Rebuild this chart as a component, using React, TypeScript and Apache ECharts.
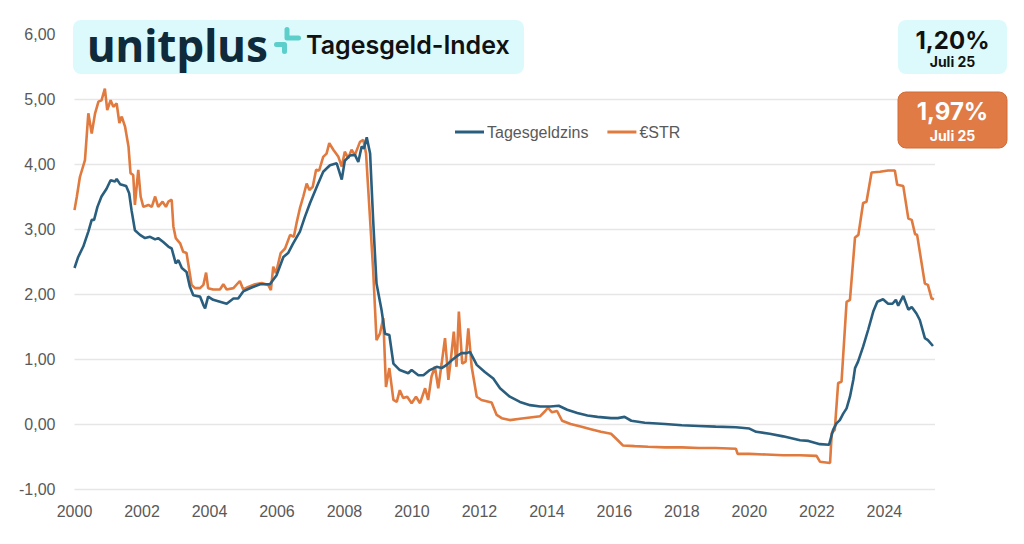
import React, { useEffect, useRef } from "react";
import * as echarts from "echarts";

// Tagesgeldzins (Tagesgeld-Index), [year, percent]
const tagesgeldzins: [number, number][] = [
  [2000.0, 2.40], [2000.11, 2.57], [2000.26, 2.73], [2000.41, 2.96], [2000.51, 3.14], [2000.58, 3.14],
  [2000.68, 3.34], [2000.8, 3.50], [2000.95, 3.62], [2001.07, 3.75], [2001.2, 3.73], [2001.25, 3.77],
  [2001.35, 3.69], [2001.53, 3.66], [2001.62, 3.55], [2001.69, 3.29], [2001.79, 2.98], [2001.94, 2.91],
  [2002.09, 2.86], [2002.24, 2.88], [2002.39, 2.84], [2002.48, 2.86], [2002.63, 2.80], [2002.78, 2.73],
  [2002.88, 2.70], [2003.0, 2.47], [2003.08, 2.52], [2003.18, 2.40], [2003.32, 2.34], [2003.42, 2.11],
  [2003.52, 1.98], [2003.72, 1.96], [2003.82, 1.83], [2003.87, 1.78], [2003.96, 1.96], [2004.11, 1.91],
  [2004.31, 1.88], [2004.51, 1.85], [2004.71, 1.93], [2004.85, 1.93], [2005.0, 2.04], [2005.25, 2.10],
  [2005.5, 2.15], [2005.79, 2.15], [2005.99, 2.29], [2006.19, 2.57], [2006.33, 2.63], [2006.48, 2.78],
  [2006.68, 2.96], [2006.83, 3.19], [2006.98, 3.40], [2007.18, 3.65], [2007.37, 3.88], [2007.57, 3.98],
  [2007.77, 4.01], [2007.92, 3.76], [2008.01, 4.05], [2008.16, 4.13], [2008.31, 4.14], [2008.41, 4.03],
  [2008.51, 4.27], [2008.58, 4.24], [2008.66, 4.41], [2008.76, 4.16], [2008.85, 3.14], [2008.95, 2.16],
  [2009.1, 1.75], [2009.2, 1.39], [2009.33, 1.37], [2009.45, 0.93], [2009.64, 0.83], [2009.89, 0.78],
  [2009.99, 0.83], [2010.19, 0.75], [2010.34, 0.75], [2010.53, 0.83], [2010.73, 0.88], [2010.88, 0.86],
  [2011.03, 0.91], [2011.18, 0.98], [2011.32, 1.04], [2011.47, 1.09], [2011.62, 1.09], [2011.72, 1.11],
  [2011.92, 0.91], [2012.16, 0.80], [2012.41, 0.70], [2012.61, 0.55], [2012.9, 0.42], [2013.2, 0.34],
  [2013.5, 0.29], [2013.8, 0.27], [2014.1, 0.27], [2014.35, 0.28], [2014.6, 0.22], [2014.9, 0.17],
  [2015.2, 0.13], [2015.5, 0.11], [2015.9, 0.09], [2016.1, 0.09], [2016.3, 0.11], [2016.5, 0.05],
  [2016.9, 0.02], [2017.5, 0.0], [2018.0, -0.02], [2018.5, -0.03], [2019.0, -0.04], [2019.6, -0.05],
  [2020.0, -0.07], [2020.2, -0.12], [2020.6, -0.15], [2021.0, -0.19], [2021.5, -0.25], [2021.75, -0.26],
  [2022.09, -0.31], [2022.36, -0.32], [2022.48, -0.09], [2022.58, 0.01], [2022.68, 0.06], [2022.78, 0.16],
  [2022.88, 0.24], [2022.98, 0.42], [2023.08, 0.68], [2023.13, 0.86], [2023.22, 0.96], [2023.37, 1.19],
  [2023.52, 1.45], [2023.67, 1.73], [2023.79, 1.88], [2023.96, 1.92], [2024.11, 1.85], [2024.24, 1.85],
  [2024.34, 1.91], [2024.41, 1.82], [2024.56, 1.97], [2024.71, 1.76], [2024.81, 1.80], [2024.95, 1.70],
  [2025.05, 1.60], [2025.2, 1.32], [2025.29, 1.29], [2025.44, 1.20],
];

// €STR (EONIA before 2019), [year, percent]
const estr: [number, number][] = [
  [2000.0, 3.29], [2000.07, 3.50], [2000.16, 3.80], [2000.31, 4.06], [2000.41, 4.78], [2000.51, 4.47],
  [2000.61, 4.78], [2000.71, 4.96], [2000.8, 4.98], [2000.9, 5.16], [2000.97, 4.83], [2001.07, 4.98],
  [2001.15, 4.88], [2001.25, 4.93], [2001.33, 4.63], [2001.4, 4.73], [2001.5, 4.57], [2001.6, 4.27],
  [2001.66, 3.86], [2001.74, 3.83], [2001.79, 3.37], [2001.89, 3.91], [2001.96, 3.50], [2002.04, 3.34],
  [2002.19, 3.37], [2002.29, 3.34], [2002.39, 3.50], [2002.48, 3.34], [2002.61, 3.42], [2002.71, 3.34],
  [2002.78, 3.42], [2002.88, 3.45], [2002.93, 3.04], [2003.0, 2.86], [2003.13, 2.78], [2003.22, 2.65],
  [2003.32, 2.63], [2003.4, 2.37], [2003.47, 2.14], [2003.57, 2.09], [2003.72, 2.09], [2003.82, 2.14],
  [2003.9, 2.33], [2003.96, 2.09], [2004.11, 2.07], [2004.31, 2.07], [2004.41, 2.15], [2004.51, 2.07],
  [2004.71, 2.09], [2004.9, 2.20], [2005.0, 2.07], [2005.15, 2.11], [2005.35, 2.15], [2005.55, 2.17],
  [2005.74, 2.14], [2005.82, 2.06], [2005.89, 2.42], [2005.97, 2.32], [2006.11, 2.63], [2006.24, 2.70],
  [2006.39, 2.91], [2006.5, 2.88], [2006.58, 3.09], [2006.68, 3.32], [2006.78, 3.50], [2006.88, 3.70],
  [2006.96, 3.60], [2007.06, 3.65], [2007.16, 3.91], [2007.25, 3.90], [2007.37, 4.11], [2007.47, 4.16],
  [2007.55, 4.32], [2007.67, 4.22], [2007.82, 4.11], [2007.92, 3.96], [2008.01, 4.19], [2008.11, 4.09],
  [2008.21, 4.22], [2008.31, 4.14], [2008.46, 4.34], [2008.56, 4.37], [2008.64, 4.16], [2008.76, 3.14],
  [2008.85, 2.37], [2008.95, 1.29], [2009.05, 1.39], [2009.15, 1.63], [2009.23, 0.57], [2009.33, 0.86],
  [2009.45, 0.37], [2009.55, 0.34], [2009.64, 0.52], [2009.74, 0.40], [2009.86, 0.42], [2009.99, 0.32],
  [2010.12, 0.42], [2010.24, 0.32], [2010.39, 0.55], [2010.48, 0.37], [2010.58, 0.73], [2010.68, 0.88],
  [2010.78, 0.55], [2010.88, 0.93], [2010.98, 1.32], [2011.08, 0.68], [2011.15, 0.98], [2011.24, 1.42],
  [2011.32, 0.88], [2011.39, 1.73], [2011.49, 0.93], [2011.59, 0.96], [2011.67, 1.47], [2011.77, 0.88],
  [2011.92, 0.42], [2012.06, 0.37], [2012.36, 0.33], [2012.51, 0.14], [2012.66, 0.09], [2012.9, 0.06],
  [2013.2, 0.08], [2013.5, 0.10], [2013.8, 0.12], [2013.95, 0.20], [2014.03, 0.25], [2014.15, 0.18],
  [2014.3, 0.20], [2014.45, 0.05], [2014.7, 0.0], [2015.0, -0.04], [2015.3, -0.08], [2015.6, -0.12],
  [2015.9, -0.15], [2016.1, -0.25], [2016.25, -0.33], [2016.6, -0.34], [2017.0, -0.35], [2017.5, -0.36],
  [2018.0, -0.36], [2018.5, -0.37], [2019.0, -0.37], [2019.6, -0.38], [2019.65, -0.46], [2020.0, -0.46],
  [2020.5, -0.47], [2021.0, -0.48], [2021.5, -0.48], [2021.99, -0.49], [2022.09, -0.58], [2022.39, -0.60],
  [2022.44, -0.14], [2022.53, -0.09], [2022.63, 0.63], [2022.73, 0.65], [2022.88, 1.88], [2022.98, 1.91],
  [2023.13, 2.87], [2023.23, 2.91], [2023.37, 3.40], [2023.47, 3.42], [2023.62, 3.87], [2023.87, 3.88],
  [2024.11, 3.90], [2024.31, 3.90], [2024.38, 3.68], [2024.56, 3.66], [2024.71, 3.16], [2024.81, 3.14],
  [2024.91, 2.92], [2024.97, 2.91], [2025.2, 2.16], [2025.29, 2.14], [2025.4, 1.93], [2025.47, 1.92],
];

const seriesNames = ["Tagesgeldzins", "€STR"];
const latestValues = ["1,20%", "1,97%"];
const latestLabel = "Juli 25";
const yMin = -1;
const yMax = 6;
const xMin = 2000;
const xMax = 2025.5;

const BLUE = "#2A5E7E";
const ORANGE = "#E07A3E";
const CYAN_BG = "#DCFAFC";

export default function App() {
  const ref = useRef<HTMLDivElement>(null);

  useEffect(() => {
    if (!ref.current) return;
    const chart = echarts.init(ref.current, undefined, { renderer: "svg" });
    const txt = (text: string, x: number, y: number, size: number, weight: any, fill: string, family: string, align = "center") => ({
      type: "text",
      z: 20,
      style: {
        text, x, y, fill, fontSize: size, fontWeight: weight, fontFamily: family,
        align, verticalAlign: "middle", textAlign: align, textVerticalAlign: "middle",
      },
    });
    chart.setOption({
      animation: false,
      backgroundColor: "#ffffff",
      grid: { left: 74.5, right: 89, top: 34, bottom: 55, containLabel: false },
      legend: {
        data: seriesNames,
        left: 450,
        top: 119,
        icon: "rect",
        itemWidth: 29,
        itemHeight: 3,
        itemGap: 19,
        textStyle: { color: "#595959", fontSize: 16, fontFamily: "Liberation Sans, Arial, sans-serif", padding: [0, 0, 0, -2] },
      },
      xAxis: {
        type: "value",
        min: xMin,
        max: xMax,
        interval: 2,
        axisLine: { show: false },
        axisTick: { show: false },
        splitLine: { show: false },
        axisLabel: {
          color: "#595959",
          fontSize: 16,
          fontFamily: "Liberation Sans, Arial, sans-serif",
          margin: 14,
          showMaxLabel: false,
          formatter: (v: number) => (Number.isInteger(v) ? String(v) : ""),
        },
      },
      yAxis: {
        type: "value",
        min: yMin,
        max: yMax,
        interval: 1,
        axisLine: { show: false },
        axisTick: { show: false },
        splitLine: { showMaxLine: false, lineStyle: { color: "#E6E6E6", width: 1.3 } },
        axisLabel: {
          color: "#595959",
          fontSize: 16,
          fontFamily: "Liberation Sans, Arial, sans-serif",
          margin: 19,
          formatter: (v: number) => v.toFixed(2).replace(".", ","),
        },
      },
      series: [
        {
          name: seriesNames[1],
          type: "line",
          data: estr,
          showSymbol: false,
          lineStyle: { color: ORANGE, width: 2.6 },
          itemStyle: { color: ORANGE },
          z: 2,
        },
        {
          name: seriesNames[0],
          type: "line",
          data: tagesgeldzins,
          showSymbol: false,
          lineStyle: { color: BLUE, width: 2.6 },
          itemStyle: { color: BLUE },
          z: 3,
        },
      ],
      graphic: [
        { type: "rect", z: 10, shape: { x: 73, y: 20, width: 451, height: 54, r: 8 }, style: { fill: CYAN_BG } },
        txt("unitplus", 87, 45, 44, 700, "#0F2A3A", "Noto Sans, sans-serif", "left"),
        {
          type: "polyline", z: 20,
          shape: { points: [[287, 29.5], [287, 38], [298.5, 38]] },
          style: { stroke: "#5CCFCB", lineWidth: 5, lineCap: "round", lineJoin: "round", fill: null },
        },
        {
          type: "polyline", z: 20,
          shape: { points: [[276.5, 44.5], [284.5, 44.5], [284.5, 51.5]] },
          style: { stroke: "#5CCFCB", lineWidth: 5, lineCap: "round", lineJoin: "round", fill: null },
        },
        txt("Tagesgeld-Index", 306, 45, 25, 600, "#111111", "Inter, sans-serif", "left"),
        { type: "rect", z: 10, shape: { x: 898, y: 20, width: 109, height: 54, r: 8 }, style: { fill: CYAN_BG } },
        txt(latestValues[0], 952.5, 40, 24, 700, "#111111", "Inter, sans-serif"),
        txt(latestLabel, 952.5, 61, 14, 700, "#111111", "Inter, sans-serif"),
        { type: "rect", z: 10, shape: { x: 898, y: 92, width: 109, height: 56, r: 8 }, style: { fill: "#E07B45", stroke: "#D26C36", lineWidth: 1 } },
        txt(latestValues[1], 952.5, 111.5, 24, 700, "#ffffff", "Inter, sans-serif"),
        txt(latestLabel, 952.5, 135, 14, 700, "#ffffff", "Inter, sans-serif"),
      ],
    });
    return () => chart.dispose();
  }, []);

  return <div ref={ref} style={{ position: "fixed", left: 0, top: 0, width: 1024, height: 544 }} />;
}
